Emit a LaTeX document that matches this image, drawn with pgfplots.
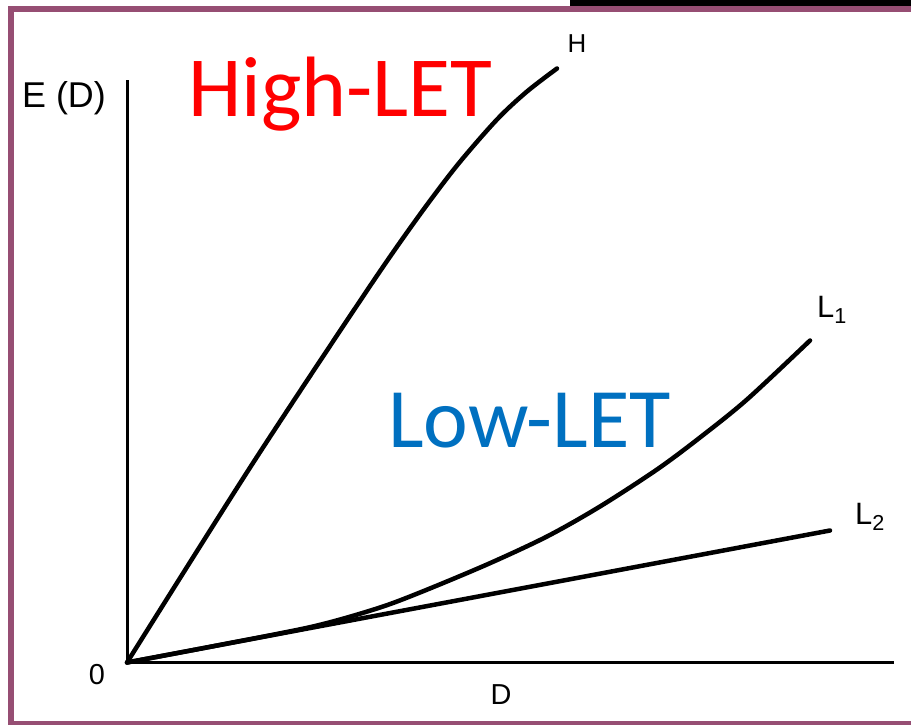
\documentclass[border=0pt]{standalone}
\usepackage{fontspec}
\setmainfont{Liberation Sans}
\newfontfamily\calibri{Carlito}
\usepackage{pgfplots}
\pgfplotsset{compat=1.18}
\definecolor{framec}{RGB}{150,78,115}
\definecolor{highred}{RGB}{255,0,0}
\definecolor{lowblue}{RGB}{0,112,192}

\begin{document}
\begin{tikzpicture}[x=1bp,y=1bp]
  % page = 911 x 725 px, 1px = 1bp
  \path[use as bounding box] (0,0) rectangle (911,725);
  % slide frame
  \fill[framec] (8,0) rectangle (14,719);
  \fill[framec] (8,713) rectangle (911,719);
  \fill[framec] (8,0) rectangle (911,4);
  \fill[black] (570,719) rectangle (911,725);

  \begin{axis}[
    at={(127,62.5)}, anchor=south west,
    scale only axis,
    width=767bp, height=582bp,
    xmin=0, xmax=767, ymin=0, ymax=582,
    axis lines=left,
    axis line style={-, line width=3bp},
    ticks=none,
    clip=false,
  ]
    % H (high-LET)
    \addplot[black, line width=4.5bp, line cap=round, smooth] coordinates {
      (0,0) (125,198) (240,372) (290,444) (330,497) (370,543)
      (400,571) (430,594)
    };
    % L1
    \addplot[black, line width=4.5bp, line cap=round, smooth] coordinates {
      (0,0) (90,17) (186,36) (250,54) (293,70) (360,98) (420,126)
      (473,156) (530,193) (573,225) (620,263) (683,322)
    };
    % L2
    \addplot[black, line width=4.5bp, line cap=round] coordinates {
      (0,0) (186,35) (703,132)
    };
  \end{axis}

  \node[font=\fontsize{36}{40}\selectfont] at (64,627) {E (D)};
  \node[font=\fontsize{29}{32}\selectfont] at (97,50) {0};
  \node[font=\fontsize{29}{32}\selectfont] at (501,30) {D};
  \node[font=\fontsize{26}{30}\selectfont] at (577,681) {H};
  \node[font=\fontsize{31}{34}\selectfont] at (832,415) {L\textsubscript{1}};
  \node[font=\fontsize{31}{34}\selectfont] at (870,208) {L\textsubscript{2}};

  \node[anchor=base west, inner sep=0pt, text=highred,
        font=\calibri\fontsize{86}{90}\selectfont] at (188,608) {High-LET};
  \node[anchor=base west, inner sep=0pt, text=lowblue,
        font=\calibri\fontsize{85}{90}\selectfont] at (388,277) {Low-LET};
\end{tikzpicture}
\end{document}
